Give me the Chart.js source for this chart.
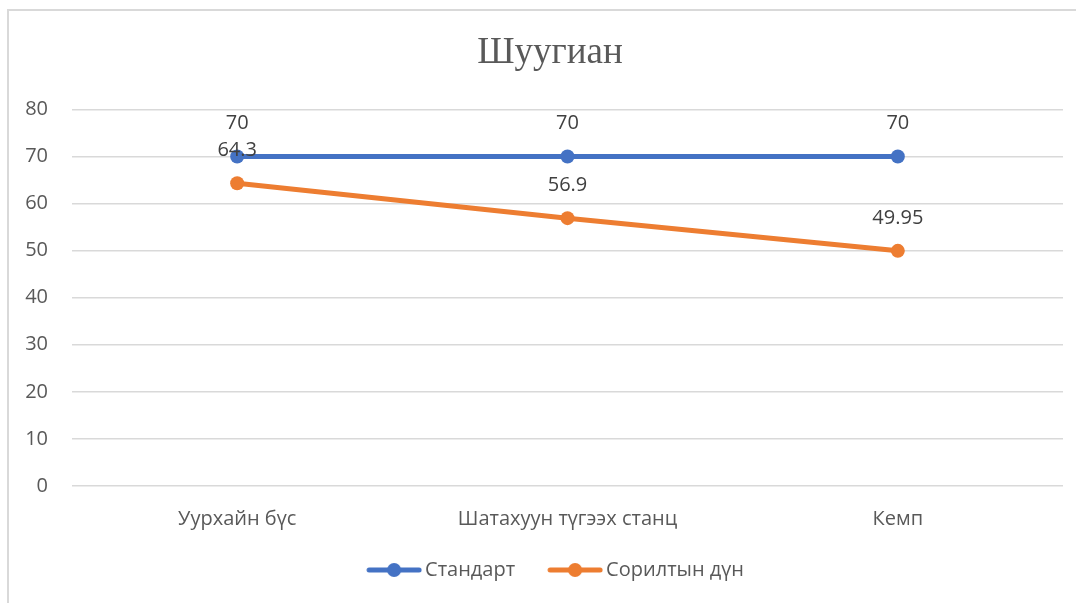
<!DOCTYPE html>
<html>
<head>
<meta charset="utf-8">
<script src="https://cdn.jsdelivr.net/npm/chart.js@4/dist/chart.umd.min.js"></script>
<style>
  html, body { margin: 0; padding: 0; background: #fff; }
  #wrap { position: relative; width: 1076px; height: 603px; overflow: hidden; }
  #frame { position: absolute; left: 7px; top: 9px; width: 1100px; height: 620px; border: 2px solid #d9d9d9; box-sizing: border-box; }
  canvas { position: absolute; left: 0; top: 0; }
</style>
</head>
<body>
<div id="wrap">
  <div id="frame"></div>
  <canvas id="lineChart" width="1100" height="603"></canvas>
</div>
<script>
var chartTitle = 'Шуугиан';
var categories = ['Уурхайн бүс', 'Шатахуун түгээх станц', 'Кемп'];
var standardValues = [70, 70, 70];
var testValues = [64.3, 56.9, 49.95];
var yTicks = { min: 0, max: 80, step: 10 };

var blue = '#4472C4';
var orange = '#ED7D31';

// line + dot marker for the legend (transparent margin on the left for spacing)
function legendMarker(color) {
  var c = document.createElement('canvas');
  c.width = 73;
  c.height = 16;
  var g = c.getContext('2d');
  g.strokeStyle = color;
  g.lineWidth = 5;
  g.lineCap = 'round';
  g.beginPath();
  g.moveTo(20, 8);
  g.lineTo(70, 8);
  g.stroke();
  g.fillStyle = color;
  g.beginPath();
  g.arc(45, 8, 7, 0, Math.PI * 2);
  g.fill();
  return c;
}

var valueLabels = {
  id: 'valueLabels',
  afterDatasetsDraw: function (chart) {
    var ctx = chart.ctx;
    ctx.save();
    ctx.font = '20px "Open Sans"';
    ctx.fillStyle = '#404040';
    ctx.textAlign = 'center';
    ctx.textBaseline = 'middle';
    chart.data.datasets.forEach(function (ds, i) {
      chart.getDatasetMeta(i).data.forEach(function (pt, j) {
        ctx.fillText(String(ds.data[j]), pt.x, pt.y - 33);
      });
    });
    ctx.restore();
  }
};

var ctx = document.getElementById('lineChart').getContext('2d');
var lineChart = new Chart(ctx, {
  type: 'line',
  data: {
    labels: categories,
    datasets: [
      {
        label: 'Стандарт',
        data: standardValues,
        borderColor: blue,
        backgroundColor: blue,
        borderWidth: 5,
        pointRadius: 7,
        pointHoverRadius: 7,
        pointBorderWidth: 0,
        fill: false,
      },
      {
        label: 'Сорилтын дүн',
        data: testValues,
        borderColor: orange,
        backgroundColor: orange,
        borderWidth: 5,
        pointRadius: 7,
        pointHoverRadius: 7,
        pointBorderWidth: 0,
        fill: false,
      },
    ],
  },
  options: {
    responsive: false,
    animation: false,
    layout: { padding: { left: 0, right: 0, top: 0, bottom: 13 } },
    plugins: {
      title: {
        display: true,
        text: chartTitle,
        color: '#595959',
        font: { family: '"Liberation Serif", "Times New Roman", serif', size: 37, weight: 'normal' },
        padding: { top: 31, bottom: 34 },
      },
      legend: {
        position: 'bottom',
        labels: {
          usePointStyle: true,
          pointStyleWidth: 59,
          padding: 22,
          color: '#595959',
          font: { family: '"Open Sans"', size: 20 },
          generateLabels: function (chart) {
            var items = Chart.defaults.plugins.legend.labels.generateLabels(chart);
            items.forEach(function (it) {
              it.pointStyle = legendMarker(chart.data.datasets[it.datasetIndex].borderColor);
            });
            return items;
          },
        },
      },
      tooltip: { enabled: false },
    },
    scales: {
      x: {
        offset: true,
        grid: { display: false, drawTicks: false },
        border: { display: false },
        ticks: { color: '#595959', padding: 21, font: { family: '"Open Sans"', size: 20 } },
        afterFit: function (scale) { scale.height = 52; },
      },
      y: {
        min: yTicks.min,
        max: yTicks.max,
        grid: { color: '#d9d9d9', lineWidth: 1.5, drawTicks: false },
        border: { display: false },
        ticks: {
          stepSize: yTicks.step,
          color: '#595959',
          padding: 24,
          font: { family: '"Open Sans"', size: 20 },
        },
        afterFit: function (scale) { scale.width = 72; },
      },
      // empty right-hand spacer so the title and legend centre like the original
      spacer: {
        position: 'right',
        grid: { display: false, drawTicks: false },
        border: { display: false },
        ticks: { display: false },
        afterFit: function (scale) { scale.width = 37; },
      },
    },
  },
  plugins: [valueLabels],
});
</script>
</body>
</html>
